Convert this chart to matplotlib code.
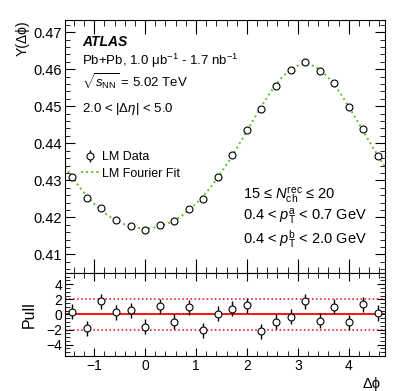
import numpy as np
import matplotlib
matplotlib.use('Agg')
import matplotlib.pyplot as plt
from matplotlib.ticker import MultipleLocator

plt.rcParams['font.family'] = ['Liberation Sans', 'DejaVu Sans']
plt.rcParams['mathtext.fontset'] = 'custom'
plt.rcParams['mathtext.rm'] = 'Liberation Sans'
plt.rcParams['mathtext.it'] = 'Liberation Sans:italic'
plt.rcParams['mathtext.bf'] = 'Liberation Sans:bold'

# 22 bins over [-pi/2, 3pi/2]
dphi = np.array([-1.428, -1.142, -0.857, -0.571, -0.286, 0.0, 0.286, 0.571, 0.857, 1.142, 1.428,
                 1.714, 1.999, 2.285, 2.570, 2.856, 3.142, 3.427, 3.713, 3.998, 4.284, 4.570])
lm_data = [0.4308, 0.4251, 0.4226, 0.4194, 0.4176, 0.4165, 0.4179, 0.4190, 0.4223, 0.4250, 0.4308,
           0.4369, 0.4437, 0.4492, 0.4555, 0.4597, 0.4619, 0.4596, 0.4562, 0.4497, 0.4438, 0.4367]
lm_err = [0.0003] * 22
pull = [0.35, -1.85, 1.76, 0.30, 0.57, -1.60, 1.10, -0.97, 0.97, -2.08, 0.08,
        0.75, 1.20, -2.20, -0.97, -0.31, 1.72, -0.84, 1.00, -1.02, 1.32, 0.20]
pull_err = [1.0] * 22

# Fourier fit of the LM data (harmonics 0..4)
nharm = 4
A = np.column_stack([np.cos(n * dphi) for n in range(nharm + 1)])
coef = np.linalg.lstsq(A, np.array(lm_data), rcond=None)[0]
xfit = np.linspace(-np.pi / 2, 3 * np.pi / 2, 400)
yfit = np.column_stack([np.cos(n * xfit) for n in range(nharm + 1)]) @ coef

fig = plt.figure(figsize=(4.07, 3.91), dpi=100)
ax1 = fig.add_axes([0.160, 0.302, 0.786, 0.647])
ax2 = fig.add_axes([0.160, 0.0895, 0.786, 0.2125])

green = '#5cc02e'
fitline, = ax1.plot(xfit, yfit, ':', color=green, lw=1.4, zorder=1)
data = ax1.errorbar(dphi, lm_data, yerr=lm_err, fmt='o', mfc='white', mec='black', mew=0.8,
                    ms=5, ecolor='black', elinewidth=1.0, capsize=0, zorder=3)

ax1.set_xlim(-np.pi / 2, 3 * np.pi / 2)
ax1.set_ylim(0.405, 0.4733)
ax1.xaxis.set_major_locator(MultipleLocator(1))
ax1.xaxis.set_minor_locator(MultipleLocator(0.2))
ax1.yaxis.set_major_locator(MultipleLocator(0.01))
ax1.yaxis.set_minor_locator(MultipleLocator(0.002))
ax1.tick_params(axis='both', which='both', direction='in', top=True, right=True, labelsize=10.5, pad=2)
ax1.tick_params(axis='x', which='major', length=10, labelbottom=False)
ax1.tick_params(axis='x', which='minor', length=4.5)
ax1.tick_params(axis='y', which='major', length=7)
ax1.tick_params(axis='y', which='minor', length=3.5)
ax1.set_yticklabels([f'{v:.2f}' for v in ax1.get_yticks()])
ax1.set_ylabel('Y(Δϕ)', fontsize=10, ha='right', y=1.0, labelpad=3)

ax1.text(0.053, 0.898, 'ATLAS', transform=ax1.transAxes, fontsize=10, fontweight='bold', fontstyle='italic')
ax1.text(0.053, 0.821, 'Pb+Pb, 1.0 μb$^{-1}$ - 1.7 nb$^{-1}$', transform=ax1.transAxes, fontsize=9.5)
ax1.text(0.053, 0.732, r'$\sqrt{s_{\mathrm{NN}}}$ = 5.02 TeV', transform=ax1.transAxes, fontsize=9.5)
ax1.text(0.053, 0.635, r'2.0 < |Δ$\eta$| < 5.0', transform=ax1.transAxes, fontsize=9.5)
ax1.text(0.556, 0.291, r'15 ≤ $N_{\mathrm{ch}}^{\mathrm{rec}}$ ≤ 20', transform=ax1.transAxes, fontsize=10.5)
ax1.text(0.556, 0.206, r'0.4 < $p_{\mathrm{T}}^{\mathrm{a}}$ < 0.7 GeV', transform=ax1.transAxes, fontsize=10.5)
ax1.text(0.556, 0.117, r'0.4 < $p_{\mathrm{T}}^{\mathrm{b}}$ < 2.0 GeV', transform=ax1.transAxes, fontsize=10.5)

ax1.legend([data, fitline], ['LM Data', 'LM Fourier Fit'], loc='upper left', bbox_to_anchor=(0.05, 0.48),
           frameon=False, fontsize=9, handlelength=1.4, handletextpad=0.25, labelspacing=0.35,
           borderpad=0, borderaxespad=0)

ax2.errorbar(dphi, pull, yerr=pull_err, fmt='o', mfc='white', mec='black', mew=0.8,
             ms=5, ecolor='black', elinewidth=1.0, capsize=0, zorder=3)
ax2.axhline(0, color='red', lw=1.3, zorder=1)
ax2.axhline(2, color='red', lw=1.1, ls=':', zorder=1)
ax2.axhline(-2, color='red', lw=1.1, ls=':', zorder=1)
ax2.set_xlim(-np.pi / 2, 3 * np.pi / 2)
ax2.set_ylim(-5.5, 5.5)
ax2.xaxis.set_major_locator(MultipleLocator(1))
ax2.xaxis.set_minor_locator(MultipleLocator(0.2))
ax2.yaxis.set_major_locator(MultipleLocator(2))
ax2.yaxis.set_minor_locator(MultipleLocator(0.5))
ax2.tick_params(axis='both', which='both', direction='in', top=True, right=True, labelsize=10, pad=2)
ax2.tick_params(axis='both', which='major', length=6)
ax2.tick_params(axis='both', which='minor', length=3.5)
ax2.set_ylabel('Pull', fontsize=11.5, labelpad=7)
ax2.set_xlabel('Δϕ', fontsize=10.5, ha='right', x=0.985, labelpad=3)

fig.savefig('out.png', dpi=100)
